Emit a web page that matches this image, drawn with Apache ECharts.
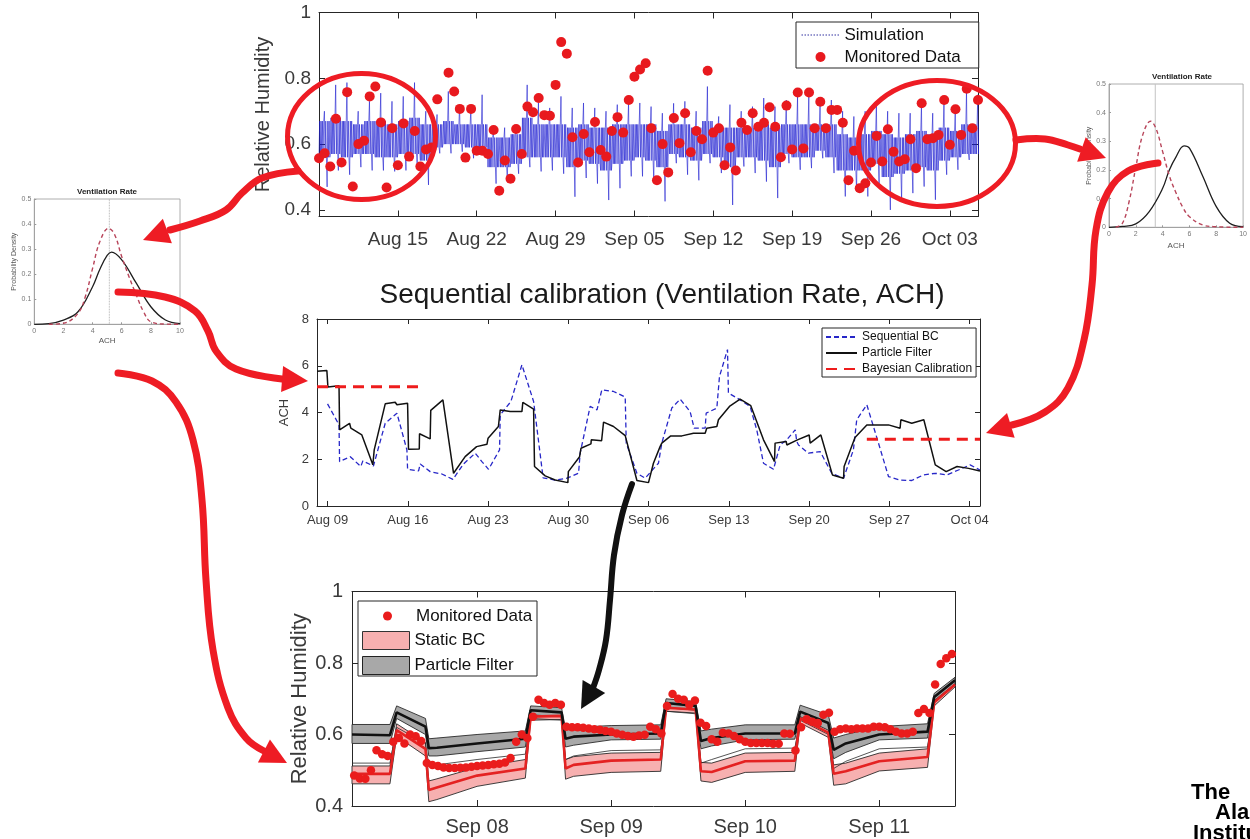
<!DOCTYPE html>
<html><head><meta charset="utf-8">
<script src="https://cdn.jsdelivr.net/npm/echarts@6/dist/echarts.min.js"></script>
<style>html,body{margin:0;padding:0;background:#fff}#c{width:1250px;height:839px}</style>
</head><body><div id="c"></div>
<script>
// ================= DATA =================
// ---- Top panel (x = days since Aug 08) ----
const topTickDays = [7,14,21,28,35,42,49,56];
const topTickLabels = ['Aug 15','Aug 22','Aug 29','Sep 05','Sep 12','Sep 19','Sep 26','Oct 03'];
const topYTicks = [0.4,0.6,0.8,1];
// simulation read per day: daily spike, daily dip, dense band top / bottom
const simPeak = [0.70,0.78,0.787,0.70,0.73,0.755,0.73,0.745,0.787,0.70, 0.69,0.76,0.72,0.71,0.75, 0.65,0.65,0.65,
  0.78,0.725,0.71,0.745,0.71,0.725,0.71,0.70,0.72,0.725,0.725,0.714,
  0.694,0.724,0.73,0.70,0.775,0.684,0.72,0.70,0.714,0.74,0.714,0.734,0.744,0.744,0.72,0.734,
  0.70,0.684,0.70,0.724,0.70,0.694,0.694,0.72,0.694,0.734,0.70,0.76,0.75];
const simTrough = [0.47,0.52,0.507,0.53,0.52,0.52,0.517,0.52,0.53,0.476, 0.572,0.572,0.577,0.557,0.562, 0.48,0.486,0.51,
  0.53,0.517,0.52,0.51,0.44,0.497,0.48,0.43,0.466,0.502,0.502,0.49,
  0.426,0.542,0.507,0.49,0.542,0.512,0.415,0.532,0.512,0.486,0.436,0.542,0.522,0.527,0.557,0.512,
  0.441,0.456,0.441,0.481,0.40,0.426,0.451,0.471,0.431,0.507,0.522,0.552,0.55];
const simBandHigh = [0.67,0.68,0.67,0.66,0.67,0.67,0.66,0.67,0.68,0.66, 0.66,0.67,0.66,0.66,0.66, 0.62,0.62,0.63,
  0.68,0.66,0.66,0.66,0.65,0.66,0.65,0.65,0.66,0.66,0.66,0.66,
  0.64,0.66,0.66,0.65,0.67,0.65,0.65,0.65,0.65,0.66,0.65,0.66,0.66,0.66,0.66,0.66,
  0.63,0.62,0.63,0.64,0.63,0.62,0.63,0.64,0.63,0.65,0.64,0.66,0.66];
const simBandLow = [0.56,0.57,0.56,0.57,0.57,0.56,0.56,0.57,0.57,0.55, 0.59,0.60,0.60,0.59,0.59, 0.53,0.53,0.54,
  0.56,0.56,0.56,0.56,0.53,0.55,0.54,0.52,0.54,0.55,0.56,0.55,
  0.53,0.57,0.56,0.55,0.57,0.56,0.53,0.56,0.56,0.55,0.53,0.57,0.56,0.56,0.58,0.56,
  0.52,0.52,0.52,0.54,0.50,0.51,0.52,0.53,0.52,0.55,0.56,0.57,0.57];
// monitored data, one reading every half day from Aug 08
const rhMonitoredStartDay = 0, rhMonitoredStepDays = 0.5;
const rhMonitored = [0.557,0.572,0.532,0.677,0.544,0.758,0.471,0.60,0.61,0.745,
  0.775,0.666,0.468,0.648,0.536,0.663,0.562,0.64,0.532,0.584,
  0.59,0.736,null,0.817,0.76,0.707,0.559,0.707,0.58,0.58,
  0.57,0.643,0.458,0.55,0.495,0.646,0.57,0.714,0.697,0.74,
  0.688,0.686,0.78,0.91,0.875,0.621,0.544,0.631,0.575,0.667,
  0.582,0.562,0.64,0.682,0.635,0.734,0.805,0.827,
  0.846,0.648,0.49,0.60,0.514,0.679,0.603,0.694,0.575,0.64,
  0.615,0.823,0.635,0.648,0.536,0.59,0.52,0.665,0.643,0.694,
  0.653,0.665,0.712,0.653,0.56,0.717,0.584,0.757,0.587,0.757,
  0.648,0.729,0.648,0.704,0.704,0.665,0.49,0.58,0.466,0.481,
  0.544,0.625,0.547,0.645,0.577,0.547,0.554,0.615,0.527,0.724,
  0.615,0.618,0.628,0.734,0.598,0.706,0.628,0.768,0.648,0.734];

// ---- Middle panel (x = days since Aug 08) ----
const midTickDays = [1,8,15,22,29,36,43,50,57];
const midTickLabels = ['Aug 09','Aug 16','Aug 23','Aug 30','Sep 06','Sep 13','Sep 20','Sep 27','Oct 04'];
const seqBC = [[1.0,4.37],[2.0,3.47],[2.05,1.9],[2.98,2.11],[3.9,1.69],[4.08,1.93],[5.0,1.71],[6.03,3.54],[7.05,3.97],[7.92,2.4],[7.98,1.57],[8.94,1.5],[9.08,1.8],[9.95,1.47],[10.97,1.37],[11.93,1.14],[12.86,1.8],[13.88,2.26],[14.46,1.9],[15.04,1.57],[16.0,2.4],[16.06,3.9],[16.99,4.47],[17.95,6.04],[18.97,4.47],[19.8,1.2],[20.85,1.11],[21.87,1.19],[22.89,1.4],[23.03,2.26],[23.9,4.26],[24.5,4.11],[24.92,4.97],[25.94,4.9],[26.96,4.66],[27.05,2.69],[27.98,1.4],[28.7,1.19],[29.86,1.83],[30.15,2.69],[31.02,4.19],[31.75,4.57],[32.62,4.04],[32.97,3.33],[33.93,3.33],[34.02,3.97],[34.95,4.19],[35.18,5.54],[35.88,6.69],[35.96,4.83],[36.98,4.54],[37.85,4.26],[38.43,3.26],[39.02,1.83],[39.89,1.57],[40.47,2.61],[41.05,2.83],[41.78,3.26],[41.92,2.76],[42.07,2.61],[42.94,2.26],[43.96,2.33],[44.97,1.4],[46.0,1.19],[46.86,2.4],[47.15,3.69],[48.03,4.33],[48.96,2.83],[49.92,1.26],[50.93,1.11],[51.95,1.09],[52.97,1.33],[53.99,1.4],[55.0,1.33],[56.02,1.54],[57.04,1.76],[57.9,1.54]];
const pfACH = [[0.08,5.76],[0.94,5.8],[1.03,5.09],[2.0,5.14],[2.05,3.26],[2.92,3.54],[3.03,3.33],[3.99,3.04],[4.95,1.76],[5.07,2.4],[6.03,4.37],[6.9,4.44],[7.05,4.33],[7.98,4.4],[8.06,2.43],[9.0,2.44],[9.02,3.09],[9.95,2.87],[10.0,4.09],[11.06,4.54],[11.99,1.4],[13.0,2.11],[14.0,2.54],[14.9,2.64],[15.0,2.9],[15.9,3.4],[16.06,4.11],[16.93,4.04],[17.07,4.0],[17.95,4.04],[18.03,4.43],[18.97,4.14],[19.05,1.69],[19.98,1.29],[20.85,1.11],[21.0,1.04],[21.96,1.0],[22.0,1.47],[22.98,2.11],[23.1,2.47],[23.97,2.66],[24.0,2.83],[24.9,2.79],[25.07,3.59],[25.94,3.4],[26.09,3.33],[26.96,3.01],[27.98,1.09],[28.99,1.0],[29.42,1.83],[30.0,2.54],[30.15,2.69],[30.93,3.0],[31.9,3.0],[32.91,3.11],[33.93,3.11],[34.07,3.33],[34.95,3.4],[35.09,3.69],[36.05,4.26],[36.98,4.57],[37.91,4.29],[39.02,2.83],[39.98,1.9],[40.03,2.69],[41.0,2.76],[41.05,2.61],[41.98,2.83],[42.07,2.76],[43.0,3.04],[43.09,2.69],[44.02,3.04],[45.03,1.33],[46.0,1.19],[46.05,1.69],[47.0,2.93],[48.03,3.47],[48.96,3.47],[49.92,3.47],[50.0,3.43],[50.93,3.33],[51.0,3.69],[51.95,3.54],[52.04,3.47],[53.0,3.69],[54.0,1.76],[54.95,1.47],[55.9,1.69],[56.9,1.61],[57.9,1.5]];
const bayesACH = [[0.08,5.1],[9.08,5.1],[30,'-'],[48.03,2.86],[57.9,2.86]];

// ---- Bottom panel (x = days since Sep 07 00:00) ----
const botTickDays = [1,2,3,4];
const botTickLabels = ['Sep 08','Sep 09','Sep 10','Sep 11'];
const bandTimes = [0.067,0.35,0.40,0.615,0.64,0.70,1.0,1.36,1.40,1.63,1.66,1.72,2.0,2.37,2.41,2.63,2.67,2.75,3.0,3.37,3.41,3.62,3.66,3.75,4.0,4.36,4.41,4.565];
const pfMean  = [0.600,0.598,0.662,0.622,0.562,0.563,0.575,0.588,0.668,0.662,0.588,0.594,0.600,0.603,0.688,0.680,0.582,0.590,0.603,0.603,0.664,0.632,0.557,0.575,0.600,0.608,0.705,0.752];
const pfHigh  = [0.628,0.628,0.680,0.645,0.588,0.590,0.600,0.610,0.680,0.675,0.615,0.620,0.625,0.627,0.700,0.692,0.610,0.615,0.627,0.627,0.682,0.655,0.590,0.600,0.622,0.630,0.715,0.760];
const pfLow   = [0.575,0.575,0.645,0.600,0.540,0.540,0.552,0.565,0.655,0.650,0.565,0.570,0.585,0.587,0.675,0.668,0.560,0.568,0.585,0.587,0.650,0.612,0.532,0.550,0.585,0.590,0.695,0.742];
const pfOuter = [0.520,0.520,0.620,0.575,0.515,0.515,0.530,0.545,0.645,0.640,0.530,0.540,0.555,0.557,0.665,0.658,0.520,0.530,0.560,0.562,0.640,0.600,0.505,0.525,0.560,0.565,0.690,0.738];
const sbcMean = [0.490,0.490,0.612,0.560,0.445,0.452,0.485,0.505,0.650,0.652,0.505,0.515,0.527,0.530,0.675,0.670,0.497,0.495,0.525,0.527,0.645,0.605,0.490,0.497,0.525,0.537,0.690,0.740];
const sbcHigh = [0.512,0.512,0.630,0.578,0.470,0.476,0.508,0.530,0.660,0.660,0.530,0.538,0.548,0.550,0.685,0.678,0.522,0.520,0.548,0.550,0.655,0.618,0.515,0.520,0.548,0.560,0.698,0.745];
const sbcLow  = [0.462,0.462,0.595,0.540,0.412,0.418,0.455,0.478,0.640,0.642,0.475,0.483,0.494,0.497,0.665,0.660,0.470,0.466,0.494,0.497,0.632,0.592,0.458,0.462,0.498,0.508,0.680,0.733];
// hourly monitored RH, starting at hour 2 of Sep 07
const rhHourlyStartHour = 2;
const rhHourly = [0.485,0.477,0.476,0.50,0.556,0.545,0.54,0.58,0.59,0.575,
  0.60,0.595,0.582,0.52,0.515,0.512,0.508,0.506,0.506,0.507,
  0.508,0.51,0.512,0.513,0.515,0.517,0.518,0.522,0.534,0.58,
  0.60,0.59,0.65,0.697,0.688,0.683,0.688,0.683,0.622,0.62,
  0.62,0.619,0.617,0.615,0.613,0.61,0.608,0.603,0.599,0.596,
  0.594,0.597,0.599,0.622,0.615,0.603,0.68,0.713,0.70,0.697,
  0.683,0.695,0.633,0.624,0.587,0.58,0.605,0.603,0.596,0.587,
  0.58,0.576,0.576,0.576,0.576,0.574,0.574,0.603,0.602,0.555,
  0.62,0.643,0.636,0.632,0.655,0.661,0.608,0.615,0.617,0.615,
  0.617,0.617,0.617,0.622,0.622,0.62,0.615,0.608,0.603,0.603,
  0.608,0.66,0.671,0.66,0.74,0.797,0.813,0.825];

// ---- Small density panels (x = ACH) ----
const leftPrior = [[0,0],[1,0.003],[2,0.017],[3,0.05],[4,0.15],[4.5,0.22],[5,0.275],[5.3,0.288],[6,0.257],[7,0.164],[8,0.07],[9,0.017],[10,0.003]];
const leftPost  = [[1,0],[2,0.004],[3,0.044],[3.5,0.11],[4,0.223],[4.5,0.33],[5.1,0.383],[5.5,0.36],[6,0.27],[6.5,0.19],[7,0.117],[7.5,0.05],[8,0.01],[9,0.001],[10,0]];
const leftMarkACH = 5.15;
const rightPrior = [[0,0],[1,0.003],[2,0.012],[3,0.055],[4,0.136],[4.5,0.2],[5,0.246],[5.6,0.284],[6,0.276],[7,0.177],[8,0.072],[9,0.014],[10,0.002]];
const rightPost  = [[0.5,0],[1,0.014],[1.5,0.09],[2,0.21],[2.5,0.32],[3.1,0.37],[3.5,0.345],[4,0.264],[4.5,0.18],[5,0.12],[5.5,0.07],[6,0.037],[7,0.008],[8,0.002],[10,0]];
const rightMarkACH = 3.45;

// ================= BUILD =================
const FONT = "'Liberation Sans', Arial, Helvetica, sans-serif";
const AX = '#262626', LC = '#3a3a3a', RED = '#ee1c24';

// within-day sampling of the simulated band: alternate band low/high, with the daily spike and dip
const simPhase = [0.00,0.06,0.12,0.18,0.24,0.30,0.36,0.42,0.48,0.54,0.60,0.66,0.72,0.78,0.84,0.90,0.96];
const simKind  = ['lo','hi','lo','hi','lo','hi','lo','hi','peak','lo','hi','lo','trough','hi','lo','hi','lo'];
const simPoints = [];
for (let d = 0; d < simPeak.length; d++) {
  for (let k = 0; k < simPhase.length; k++) {
    const kd = simKind[k];
    const v = kd === 'peak' ? simPeak[d] : kd === 'trough' ? simTrough[d] : kd === 'hi' ? simBandHigh[d] : simBandLow[d];
    simPoints.push([d + simPhase[k], v]);
  }
}
const rhTop = [];
rhMonitored.forEach((v, i) => { if (v != null) rhTop.push([rhMonitoredStartDay + i * rhMonitoredStepDays, v]); });
const rhBottom = rhHourly.map((v, i) => [(rhHourlyStartHour + i) / 24, v]);
const zip = (t, v) => t.map((x, i) => [x, v[i]]);

function lookup(ticks, labels) { return v => { const i = ticks.indexOf(v); return i >= 0 ? labels[i] : ''; }; }

function boxX(grid, min, max, ticks, fmt, fs, margin, tickLen) {
  const base = { gridIndex: grid, type: 'value', min, max, splitLine: { show: false },
    axisLine: { show: true, onZero: false, lineStyle: { color: AX, width: 1 } } };
  return [
    Object.assign({}, base, { position: 'bottom',
      axisTick: { show: true, inside: true, length: tickLen, customValues: ticks, lineStyle: { color: AX } },
      axisLabel: { show: true, customValues: ticks, formatter: fmt, fontSize: fs, color: LC, margin, fontFamily: FONT } }),
    Object.assign({}, base, { position: 'top',
      axisTick: { show: true, inside: true, length: tickLen, customValues: ticks, lineStyle: { color: AX } },
      axisLabel: { show: false } })
  ];
}
function boxY(grid, min, max, ticks, fmt, fs, margin, tickLen, name, nfs, nameGap) {
  const base = { gridIndex: grid, type: 'value', min, max, splitLine: { show: false },
    axisLine: { show: true, onZero: false, lineStyle: { color: AX, width: 1 } } };
  return [
    Object.assign({}, base, { position: 'left', name, nameLocation: 'middle', nameGap,
      nameTextStyle: { fontSize: nfs, color: LC, fontFamily: FONT },
      axisTick: { show: true, inside: true, length: tickLen, customValues: ticks, lineStyle: { color: AX } },
      axisLabel: { show: true, customValues: ticks, formatter: fmt, fontSize: fs, color: LC, margin, fontFamily: FONT } }),
    Object.assign({}, base, { position: 'right',
      axisTick: { show: true, inside: true, length: tickLen, customValues: ticks, lineStyle: { color: AX } },
      axisLabel: { show: false } })
  ];
}
function smallX(grid, nameGap) {
  return { gridIndex: grid, type: 'value', min: 0, max: 10, interval: 2, position: 'bottom',
    name: 'ACH', nameLocation: 'middle', nameGap, nameTextStyle: { fontSize: 8, color: '#555', fontFamily: FONT },
    axisLine: { show: true, onZero: false, lineStyle: { color: '#9a9a9a', width: 0.8 } },
    axisTick: { show: true, inside: true, length: 2, lineStyle: { color: '#9a9a9a' } },
    axisLabel: { fontSize: 7, color: '#777', margin: 3, fontFamily: FONT }, splitLine: { show: false } };
}
function smallY(grid, nameGap) {
  return { gridIndex: grid, type: 'value', min: 0, max: 0.5, interval: 0.1, position: 'left',
    name: 'Probability Density', nameLocation: 'middle', nameGap, nameTextStyle: { fontSize: 7, color: '#555', fontFamily: FONT },
    axisLine: { show: true, onZero: false, lineStyle: { color: '#9a9a9a', width: 0.8 } },
    axisTick: { show: true, inside: true, length: 2, lineStyle: { color: '#9a9a9a' } },
    axisLabel: { fontSize: 7, color: '#777', margin: 3, fontFamily: FONT, formatter: v => v === 0 ? '0' : v.toFixed(1) },
    splitLine: { show: false } };
}

const topX = boxX(0, 0, 58.5, topTickDays, lookup(topTickDays, topTickLabels), 19, 14, 6);
const topY = boxY(0, 0.38, 1, topYTicks, v => String(v), 19, 8, 6, 'Relative Humidity', 20, 37);
const midX = boxX(1, 0.08, 57.9, midTickDays, lookup(midTickDays, midTickLabels), 13, 8, 5);
const midY = boxY(1, 0, 8, [0,2,4,6,8], v => String(v), 13, 8, 5, 'ACH', 13, 18);
const botX = boxX(2, 0.067, 4.565, botTickDays, lookup(botTickDays, botTickLabels), 20, 11, 6);
const botY = boxY(2, 0.4, 1, [0.4,0.6,0.8,1], v => String(v), 20, 9, 6, 'Relative Humidity', 22, 38);

function band(name, xi, yi, times, lo, hi, fill, z) {
  return { type: 'custom', name, xAxisIndex: xi, yAxisIndex: yi, coordinateSystem: 'cartesian2d',
    data: [[times[0], lo[0]]], z, silent: true, itemStyle: { color: fill },
    renderItem: (params, api) => {
      const pts = [];
      for (let i = 0; i < times.length; i++) pts.push(api.coord([times[i], hi[i]]));
      for (let i = times.length - 1; i >= 0; i--) pts.push(api.coord([times[i], lo[i]]));
      return { type: 'polygon', shape: { points: pts }, style: { fill, stroke: '#2a2a2a', lineWidth: 0.9 } };
    } };
}
function line(name, xi, yi, data, color, width, type, z, smooth) {
  return { type: 'line', name, xAxisIndex: xi, yAxisIndex: yi, data, symbol: 'none', showSymbol: false, smooth: smooth || false,
    lineStyle: { color, width, type: type || 'solid' }, itemStyle: { color }, z: z || 3, silent: true };
}

// ---- decorations (annotation arrows) ----
function head(tip, from, len, hw, color) {
  const dx = tip[0] - from[0], dy = tip[1] - from[1], L = Math.hypot(dx, dy);
  const ux = dx / L, uy = dy / L, bx = tip[0] - ux * len, by = tip[1] - uy * len;
  return { type: 'polygon', z: 101, silent: true,
    shape: { points: [tip, [bx - uy * hw, by + ux * hw], [bx + uy * hw, by - ux * hw]] },
    style: { fill: color } };
}
function arrow(pts, tip, color, w) {
  return [
    { type: 'polyline', z: 100, silent: true, shape: { points: pts, smooth: 0.4 },
      style: { stroke: color, lineWidth: w, fill: null, lineCap: 'round', lineJoin: 'round' } },
    head(tip, pts[pts.length - 1], 26, 13, color)
  ];
}
const deco = [].concat(
  arrow([[298,171],[262,178],[242,193],[226,210],[200,221],[170,230]], [143,240], RED, 7),
  arrow([[1016,140],[1045,139],[1068,145],[1080,149]], [1106,158], RED, 7),
  arrow([[118,292],[165,297],[195,311],[208,331],[216,351],[236,369],[282,379]], [308,381], RED, 7),
  arrow([[1158,163],[1128,171],[1108,192],[1096,230],[1092,285],[1084,340],[1068,388],[1045,412],[1012,425]], [986,433], RED, 7),
  arrow([[118,373],[152,381],[176,402],[193,440],[202,500],[206,580],[213,650],[228,708],[246,738],[264,751]], [287,763], RED, 7),
  arrow([[632,484],[622,515],[614,555],[610,600],[606,640],[599,670],[593,688]], [581,709], '#111', 6)
);

const noSym = { opacity: 0 };
const option = {
  animation: false,
  backgroundColor: '#fff',
  textStyle: { fontFamily: FONT },
  grid: [
    { left: 319, top: 12.5, width: 659, height: 204 },
    { left: 317, top: 319, width: 663, height: 187 },
    { left: 352, top: 591.5, width: 603, height: 214.5 },
    { left: 34.3, top: 199, width: 145.7, height: 125.3, show: true, borderColor: '#9a9a9a', borderWidth: 0.8 },
    { left: 1109, top: 84, width: 146, height: 143.3, show: true, borderColor: '#9a9a9a', borderWidth: 0.8 }
  ],
  xAxis: [topX[0], topX[1], midX[0], midX[1], botX[0], botX[1], smallX(3, 12), smallX(4, 14)],
  yAxis: [topY[0], topY[1], midY[0], midY[1], botY[0], botY[1], smallY(3, 16), smallY(4, 15)],
  legend: [
    { left: 796, top: 22, orient: 'vertical', selectedMode: false, padding: [4, 18, 2, 5],
      itemWidth: 38, itemHeight: 10, itemGap: 4, borderColor: AX, borderWidth: 1, backgroundColor: '#fff',
      textStyle: { fontSize: 17, lineHeight: 18, color: '#111', fontFamily: FONT },
      data: [{ name: 'Simulation', itemStyle: noSym, lineStyle: { type: [1.5, 1.5], width: 1, color: '#3030a0' } },
             { name: 'Monitored Data', icon: 'circle', itemStyle: { color: '#e8191e' } }] },
    { left: 822, top: 328, orient: 'vertical', selectedMode: false, padding: [3, 4, 2, 3],
      itemWidth: 31, itemHeight: 10, itemGap: 4, borderColor: AX, borderWidth: 1, backgroundColor: '#fff',
      textStyle: { fontSize: 12, lineHeight: 12, color: '#111', fontFamily: FONT },
      data: [{ name: 'Sequential BC', itemStyle: noSym }, { name: 'Particle Filter', itemStyle: noSym },
             { name: 'Bayesian Calibration', itemStyle: noSym }] },
    { left: 383, top: 607, orient: 'vertical', selectedMode: false, padding: 0,
      itemWidth: 47, itemHeight: 9, textStyle: { fontSize: 17, lineHeight: 18, color: '#111', fontFamily: FONT },
      formatter: n => n.replace('#b', ''),
      data: [{ name: 'Monitored Data#b', icon: 'circle', itemStyle: { color: '#ea1c1c' } }] },
    { left: 362, top: 631, orient: 'vertical', selectedMode: false, padding: 0,
      itemWidth: 47, itemHeight: 18, itemGap: 6, textStyle: { fontSize: 17, lineHeight: 18, color: '#111', fontFamily: FONT },
      formatter: n => n.replace('#b', ''),
      data: [{ name: 'Static BC', icon: 'rect', itemStyle: { color: '#f7b0b0', borderColor: '#333', borderWidth: 1 } },
             { name: 'Particle Filter#b', icon: 'rect', itemStyle: { color: '#a8a8a8', borderColor: '#222', borderWidth: 1 } }] }
  ],
  series: [
    // top
    line('Simulation', 0, 0, simPoints, '#1c1cd0', 0.6, 'solid', 2),
    { type: 'scatter', name: 'Monitored Data', xAxisIndex: 0, yAxisIndex: 0, data: rhTop, symbolSize: 10,
      itemStyle: { color: '#e8191e', opacity: 1 }, z: 4, silent: true },
    // middle
    line('Sequential BC', 2, 2, seqBC, '#2727c8', 1.3, [5, 3], 3),
    line('Particle Filter', 2, 2, pfACH, '#111', 1.5, 'solid', 4),
    line('Bayesian Calibration', 2, 2, bayesACH, '#ee1c1c', 3, [11, 7], 5),
    // bottom
    band('Static BC', 4, 4, bandTimes, sbcLow, sbcHigh, '#f7b0b0', 2),
    band('Particle Filter#b', 4, 4, bandTimes, pfLow, pfHigh, '#a8a8a8', 3),
    line('pfOuterEdge', 4, 4, zip(bandTimes, pfOuter), '#2a2a2a', 0.8, 'solid', 3),
    line('sbcMeanLine', 4, 4, zip(bandTimes, sbcMean), '#e42222', 2.6, 'solid', 4),
    line('pfMeanLine', 4, 4, zip(bandTimes, pfMean), '#111', 2.6, 'solid', 4),
    { type: 'scatter', name: 'Monitored Data#b', xAxisIndex: 4, yAxisIndex: 4, data: rhBottom, symbolSize: 8.5,
      itemStyle: { color: '#ea1c1c', opacity: 1 }, z: 6, silent: true },
    // small left
    line('leftMark', 6, 6, [[leftMarkACH, 0], [leftMarkACH, 0.5]], '#9a9a9a', 0.8, 'dotted', 2),
    line('leftPrior', 6, 6, leftPrior, '#1e1e1e', 1.3, 'solid', 3, 0.4),
    line('leftPost', 6, 6, leftPost, '#b8455a', 1.4, [4, 3], 3, 0.4),
    // small right
    line('rightMark', 7, 7, [[rightMarkACH, 0], [rightMarkACH, 0.5]], '#c4c4c4', 1, 'solid', 2),
    line('rightPrior', 7, 7, rightPrior, '#1e1e1e', 1.3, 'solid', 3, 0.4),
    line('rightPost', 7, 7, rightPost, '#b8455a', 1.4, [4, 3], 3, 0.4)
  ],
  graphic: { elements: [
    { type: 'text', x: 662, y: 295, z: 50, silent: true,
      style: { text: 'Sequential calibration (Ventilation Rate, ACH)', fontSize: 28, fontFamily: FONT, fill: '#1a1a1a', align: 'center', verticalAlign: 'middle' } },
    { type: 'text', x: 107, y: 192, z: 50, silent: true,
      style: { text: 'Ventilation Rate', fontSize: 8, fontWeight: 'bold', fontFamily: FONT, fill: '#222', align: 'center', verticalAlign: 'middle' } },
    { type: 'text', x: 1182, y: 77, z: 50, silent: true,
      style: { text: 'Ventilation Rate', fontSize: 8, fontWeight: 'bold', fontFamily: FONT, fill: '#222', align: 'center', verticalAlign: 'middle' } },
    { type: 'rect', z: 40, silent: true, shape: { x: 358, y: 601, width: 179, height: 75 },
      style: { fill: 'rgba(255,255,255,0)', stroke: AX, lineWidth: 1 } },
    { type: 'ellipse', z: 100, silent: true, shape: { cx: 361.5, cy: 136.5, rx: 74, ry: 63 },
      style: { fill: null, stroke: RED, lineWidth: 5 } },
    { type: 'ellipse', z: 100, silent: true, shape: { cx: 937, cy: 143.5, rx: 78.5, ry: 63 },
      style: { fill: null, stroke: RED, lineWidth: 5 } },
    { type: 'text', x: 1191, y: 793, z: 50, silent: true,
      style: { text: 'The', fontSize: 22, fontWeight: 'bold', fontFamily: FONT, fill: '#000', verticalAlign: 'middle' } },
    { type: 'text', x: 1215, y: 813, z: 50, silent: true,
      style: { text: 'Alan Turing', fontSize: 22, fontWeight: 'bold', fontFamily: FONT, fill: '#000', verticalAlign: 'middle' } },
    { type: 'text', x: 1193, y: 834, z: 50, silent: true,
      style: { text: 'Institute', fontSize: 22, fontWeight: 'bold', fontFamily: FONT, fill: '#000', verticalAlign: 'middle' } }
  ].concat(deco) }
};

const chart = echarts.init(document.getElementById('c'), null, { renderer: 'canvas' });
chart.setOption(option);
</script>
</body></html>
